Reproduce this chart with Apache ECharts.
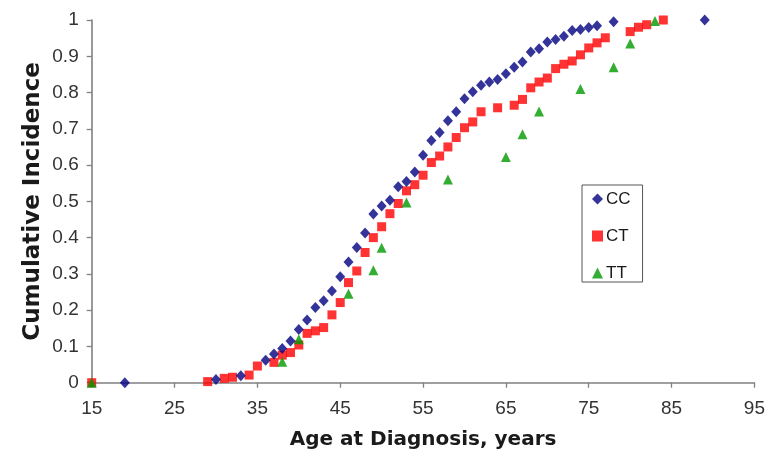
<!DOCTYPE html>
<html>
<head>
<meta charset="utf-8">
<script src="https://cdn.jsdelivr.net/npm/echarts@6/dist/echarts.min.js"></script>
<style>
html,body{margin:0;padding:0;background:#fff;}
#chart{width:768px;height:460px;}
</style>
</head>
<body>
<div id="chart"></div>
<script>
// Age at diagnosis (years) and cumulative incidence per genotype
const ccAges = [19,30,33,36,37,38,39,40,41,42,43,44,45,46,47,48,49,50,51,52,53,54,55,56,57,58,59,60,61,62,63,64,65,66,67,68,69,70,71,72,73,74,75,76,78,89];
const ccVals = [0,0.009,0.019,0.062,0.079,0.094,0.115,0.147,0.173,0.207,0.226,0.253,0.292,0.333,0.373,0.413,0.465,0.487,0.503,0.54,0.555,0.581,0.627,0.668,0.69,0.722,0.747,0.783,0.802,0.82,0.829,0.836,0.852,0.87,0.884,0.912,0.921,0.939,0.946,0.955,0.971,0.974,0.979,0.984,0.995,1.0];

const ctAges = [15,29,31,32,34,35,37,38,39,40,41,42,43,44,45,46,47,48,49,50,51,52,53,54,55,56,57,58,59,60,61,62,64,66,67,68,69,70,71,72,73,74,75,76,77,80,81,82,84];
const ctVals = [0,0.003,0.012,0.015,0.021,0.046,0.056,0.076,0.083,0.104,0.136,0.143,0.152,0.187,0.221,0.276,0.308,0.359,0.40,0.43,0.466,0.494,0.529,0.546,0.572,0.607,0.625,0.65,0.676,0.703,0.719,0.747,0.758,0.765,0.781,0.813,0.829,0.84,0.866,0.878,0.887,0.904,0.923,0.937,0.951,0.968,0.98,0.987,1.0];

const ttAges = [15,38,40,46,49,50,53,58,65,67,69,74,78,80,83];
const ttVals = [0,0.058,0.12,0.245,0.31,0.372,0.497,0.56,0.622,0.685,0.748,0.81,0.87,0.935,0.997];

const seriesNames = ['CC','CT','TT'];
const xTicks = {min:15, max:95, step:10};
const yTicks = {min:0, max:1, step:0.1};

function pairs(a, v){ return a.map((x,i)=>[x, v[i]]); }

const chart = echarts.init(document.getElementById('chart'), null, {renderer:'canvas'});
const textColor = '#1a1a1a';
const labelColor = '#333333';
const axisColor = '#808080';
chart.setOption({
  animation:false,
  backgroundColor:'#ffffff',
  grid:{left:91.7, right:9.7, top:20, bottom:77.3},
  xAxis:{
    type:'value', min:xTicks.min, max:xTicks.max, interval:xTicks.step,
    name:'Age at Diagnosis, years', nameLocation:'middle', nameGap:47,
    nameTextStyle:{fontFamily:'DejaVu Sans', fontWeight:'bold', fontSize:20, color:textColor},
    axisLine:{lineStyle:{color:axisColor, width:1.6}},
    axisTick:{show:true, length:5, lineStyle:{color:axisColor, width:1.3}},
    axisLabel:{fontFamily:'Liberation Sans', fontSize:19, color:labelColor, margin:17},
    splitLine:{show:false}
  },
  yAxis:{
    type:'value', min:yTicks.min, max:yTicks.max, interval:yTicks.step,
    name:'Cumulative Incidence', nameLocation:'middle', nameRotate:90, nameGap:47,
    nameMoveOverlap:false,
    nameTextStyle:{fontFamily:'DejaVu Sans', fontWeight:'bold', fontSize:23, color:textColor},
    axisLine:{show:true, lineStyle:{color:axisColor, width:1.6}},
    axisTick:{show:true, length:5, lineStyle:{color:axisColor, width:1.3}},
    axisLabel:{fontFamily:'Liberation Sans', fontSize:19, color:labelColor, margin:13},
    splitLine:{show:false}
  },
  legend:{
    orient:'vertical', left:582, top:185,
    data:seriesNames,
    padding:[5.5,12,0.5,10],
    itemWidth:11, itemHeight:11, itemGap:20,
    borderColor:'#555', borderWidth:1,
    textStyle:{fontFamily:'Liberation Sans', fontSize:17, color:textColor, lineHeight:14, padding:[0,0,0,-2]}
  },
  series:[
    {name:seriesNames[0], type:'scatter', symbol:'diamond', symbolSize:[10,11], data:pairs(ccAges, ccVals), itemStyle:{color:'#000080'}, z:3},
    {name:seriesNames[1], type:'scatter', symbol:'rect', symbolSize:9, data:pairs(ctAges, ctVals), itemStyle:{color:'#ff0000'}, z:2},
    {name:seriesNames[2], type:'scatter', symbol:'triangle', symbolSize:10, data:pairs(ttAges, ttVals), itemStyle:{color:'#009a00'}, z:4}
  ]
});
</script>
</body>
</html>
